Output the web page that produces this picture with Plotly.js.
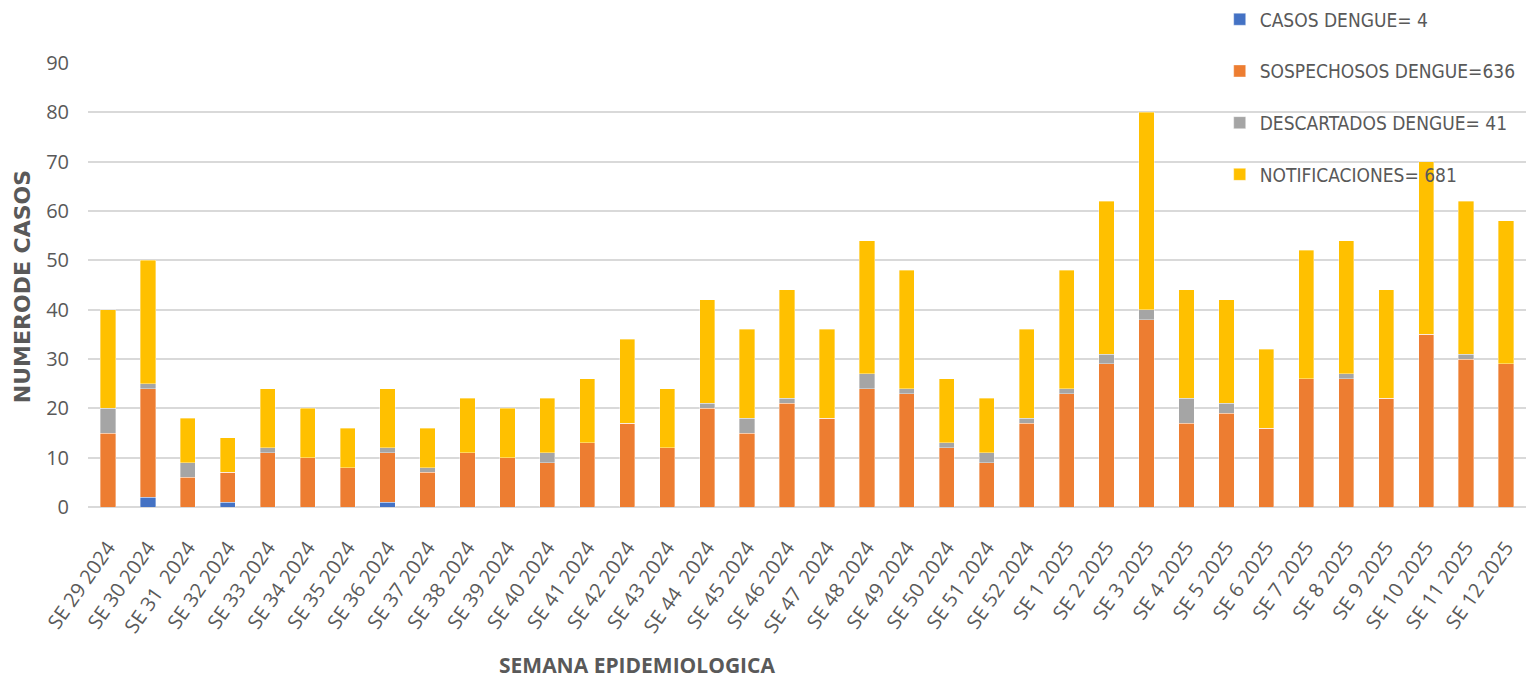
<!DOCTYPE html>
<html>
<head>
<meta charset="utf-8">
<script src="https://cdn.plot.ly/plotly-3.0.1.min.js"></script>
<style>
  html, body { margin: 0; padding: 0; background: #ffffff; }
  #chart { width: 1526px; height: 678px; }
</style>
</head>
<body>
<div id="chart"></div>
<script>
const semanas = [
  "SE 29 2024", "SE 30 2024", "SE 31\u00a0 2024", "SE 32 2024", "SE 33 2024", "SE 34 2024",
  "SE 35 2024", "SE 36 2024", "SE 37 2024", "SE 38 2024", "SE 39 2024", "SE 40 2024",
  "SE 41 2024", "SE 42 2024", "SE 43 2024", "SE 44\u00a0 2024", "SE 45 2024", "SE 46 2024",
  "SE 47\u00a0 2024", "SE 48 2024", "SE 49 2024", "SE 50 2024", "SE 51 2024", "SE 52 2024",
  "SE 1 2025", "SE 2 2025", "SE 3 2025", "SE 4 2025", "SE 5 2025", "SE 6 2025",
  "SE 7 2025", "SE 8 2025", "SE 9 2025", "SE 10 2025", "SE 11 2025", "SE 12 2025"
];
const casosDengue = [0,2,0,1,0,0,0,1,0,0,0,0,0,0,0,0,0,0,0,0,0,0,0,0,0,0,0,0,0,0,0,0,0,0,0,0];
const sospechososDengue = [15,22,6,6,11,10,8,10,7,11,10,9,13,17,12,20,15,21,18,24,23,12,9,17,23,29,38,17,19,16,26,26,22,35,30,29];
const descartadosDengue = [5,1,3,0,1,0,0,1,1,0,0,2,0,0,0,1,3,1,0,3,1,1,2,1,1,2,2,5,2,0,0,1,0,0,1,0];
const notificaciones = [20,25,9,7,12,10,8,12,8,11,10,11,13,17,12,21,18,22,18,27,24,13,11,18,24,31,40,22,21,16,26,27,22,35,31,29];
const nombres = ["CASOS DENGUE= 4", "SOSPECHOSOS DENGUE=636", "DESCARTADOS DENGUE= 41", "NOTIFICACIONES= 681"];
const colores = ["#4472C4", "#ED7D31", "#A5A5A5", "#FFC000"];
const yTicks = [0,10,20,30,40,50,60,70,80,90];

const FONT = '"Open Sans", sans-serif';
const NARROW = '"Liberation Sans Narrow", "DejaVu Sans Condensed", Roboto, sans-serif';
const series = [casosDengue, sospechososDengue, descartadosDengue, notificaciones];
const traces = series.map((vals, i) => ({
  type: 'bar',
  x: semanas,
  y: vals,
  name: nombres[i],
  legendgroup: 'g' + i,
  marker: { color: colores[i], line: { color: 'rgba(255,255,255,0.6)', width: 0.6 } },
  hoverinfo: 'x+y+name'
}));

const layout = {
  width: 1526,
  height: 678,
  barmode: 'stack',
  bargap: 0.62,
  paper_bgcolor: '#ffffff',
  plot_bgcolor: '#ffffff',
  margin: { l: 88, r: 0, t: 63, b: 171, autoexpand: false },
  font: { family: FONT, color: '#595959', size: 18 },
  xaxis: {
    type: 'category',
    tickangle: -55,
    tickfont: { family: FONT, size: 20, color: '#595959' },
    showgrid: false,
    showline: false,
    zeroline: false,
    ticks: '',
    ticklabelstandoff: 24,
    automargin: false
  },
  yaxis: {
    range: [0, 90],
    tickvals: yTicks,
    ticktext: yTicks.map(String),
    tickfont: { family: FONT, size: 20, color: '#595959' },
    showgrid: true,
    gridcolor: '#d9d9d9',
    gridwidth: 1.8,
    zeroline: true,
    zerolinecolor: '#d9d9d9',
    zerolinewidth: 1.8,
    ticks: '',
    ticklabelstandoff: 18,
    automargin: false
  },
  legend: {
    x: 0.787,
    xanchor: 'left',
    y: 1.141,
    yanchor: 'top',
    orientation: 'v',
    traceorder: 'grouped',
    tracegroupgap: 24,
    bgcolor: 'rgba(255,255,255,0)',
    font: { family: NARROW, size: 19, color: '#595959' },
    itemwidth: 30
  },
  showlegend: true,
  annotations: [
    {
      text: '<b>SEMANA EPIDEMIOLOGICA</b>',
      xref: 'paper', yref: 'paper',
      x: 0.382, y: -0.356,
      xanchor: 'center', yanchor: 'middle',
      showarrow: false,
      font: { family: FONT, size: 21, color: '#595959' }
    },
    {
      text: '<b>NUMERODE CASOS</b>',
      xref: 'paper', yref: 'paper',
      x: -0.046, y: 0.497,
      xanchor: 'center', yanchor: 'middle',
      textangle: -90,
      showarrow: false,
      font: { family: '"DejaVu Sans", sans-serif', size: 22, color: '#595959' }
    }
  ]
};

Plotly.newPlot('chart', traces, layout, { displayModeBar: false, responsive: false });
</script>
</body>
</html>
